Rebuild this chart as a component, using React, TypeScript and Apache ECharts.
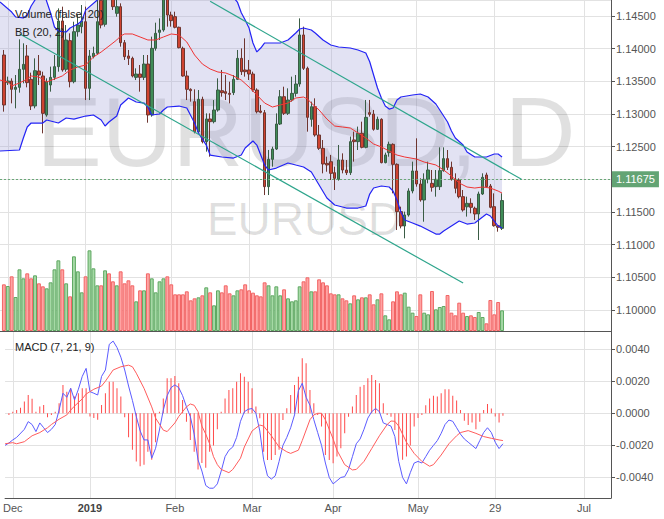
import React, { useEffect, useRef } from "react";
import * as echarts from "echarts";

const FONT = "'Liberation Sans', Arial, sans-serif";

// ---- calendar (trading days, category axis) ----
const firstDay = "2018-11-29";
const dayCount = 158;
const holidays = ["2018-12-25", "2019-01-01"];
const anchorDay = "2018-12-03"; // trading index 0
const firstCandleDay = "2018-11-30"; // trading index -1
const tickDates = ["2018-12-03", "2019-01-02", "2019-02-01", "2019-03-01", "2019-04-01", "2019-05-01", "2019-05-29", "2019-07-01"];
const tickLabels = ["Dec", "2019", "Feb", "Mar", "Apr", "May", "29", "Jul"];

// ---- candles [open, high, low, close], from 2018-11-30 ----
const ohlc: number[][] = [
  [1.13903, 1.1398, 1.13036, 1.13138],
  [1.1348, 1.13572, 1.13444, 1.13505],
  [1.13505, 1.13546, 1.13163, 1.13378],
  [1.13378, 1.13597, 1.13087, 1.13408],
  [1.13408, 1.14143, 1.13327, 1.13684],
  [1.13684, 1.14082, 1.1347, 1.1376],
  [1.13888, 1.14056, 1.13408, 1.1348],
  [1.13531, 1.13633, 1.13061, 1.13123],
  [1.13123, 1.13852, 1.13087, 1.13663],
  [1.13658, 1.13903, 1.13444, 1.13597],
  [1.13582, 1.13648, 1.12704, 1.1301],
  [1.12985, 1.13546, 1.12959, 1.13495],
  [1.13444, 1.13725, 1.13342, 1.13561],
  [1.13561, 1.13903, 1.1352, 1.13725],
  [1.13725, 1.14617, 1.13648, 1.14424],
  [1.14424, 1.14643, 1.13648, 1.13674],
  [1.13684, 1.14362, 1.13648, 1.14133],
  [1.14123, 1.14235, 1.13408, 1.13495],
  [1.13495, 1.14413, 1.1347, 1.1426],
  [1.1426, 1.14515, 1.14184, 1.14362],
  [1.14337, 1.14668, 1.14235, 1.14424],
  [1.14413, 1.14643, 1.13214, 1.13393],
  [1.13393, 1.1398, 1.13214, 1.13888],
  [1.13878, 1.14031, 1.13852, 1.13929],
  [1.13929, 1.1476, 1.13903, 1.14413],
  [1.1474, 1.1485, 1.14311, 1.14362],
  [1.14373, 1.1545, 1.14337, 1.1535],
  [1.1535, 1.157, 1.1485, 1.15],
  [1.15, 1.151, 1.14592, 1.14643],
  [1.14541, 1.148, 1.1449, 1.14643],
  [1.14643, 1.14694, 1.14031, 1.14092],
  [1.14092, 1.14133, 1.13827, 1.13878],
  [1.13888, 1.1398, 1.1375, 1.13852],
  [1.13852, 1.13878, 1.13561, 1.13582],
  [1.13561, 1.13699, 1.1352, 1.13612],
  [1.13612, 1.1375, 1.13342, 1.13561],
  [1.13561, 1.13903, 1.1352, 1.13765],
  [1.13765, 1.13903, 1.12867, 1.12985],
  [1.12985, 1.14184, 1.12959, 1.14005],
  [1.14005, 1.14398, 1.1397, 1.14235],
  [1.1425, 1.14464, 1.14133, 1.14286],
  [1.14286, 1.149, 1.1426, 1.148],
  [1.148, 1.149, 1.14337, 1.14515],
  [1.14515, 1.14566, 1.14337, 1.14429],
  [1.1449, 1.14566, 1.14311, 1.14327],
  [1.14327, 1.14337, 1.14005, 1.14015],
  [1.14005, 1.14031, 1.13572, 1.13582],
  [1.13582, 1.13663, 1.13214, 1.13378],
  [1.13378, 1.13393, 1.13189, 1.13357],
  [1.13189, 1.13378, 1.12704, 1.1273],
  [1.1273, 1.13367, 1.12704, 1.13225],
  [1.13225, 1.13265, 1.12551, 1.12577],
  [1.12577, 1.1301, 1.12424, 1.12924],
  [1.12924, 1.1301, 1.12347, 1.12883],
  [1.12883, 1.13214, 1.12857, 1.13061],
  [1.13061, 1.13546, 1.13036, 1.13367],
  [1.13357, 1.13674, 1.13265, 1.13327],
  [1.13342, 1.13597, 1.13214, 1.13316],
  [1.13316, 1.13495, 1.13163, 1.13301],
  [1.13327, 1.13597, 1.1329, 1.13531],
  [1.13531, 1.1398, 1.1352, 1.13852],
  [1.13852, 1.14005, 1.13597, 1.13648],
  [1.13674, 1.14158, 1.13572, 1.13648],
  [1.13674, 1.13827, 1.1352, 1.13612],
  [1.13612, 1.13648, 1.13342, 1.13367],
  [1.13367, 1.13393, 1.1301, 1.13036],
  [1.13046, 1.13138, 1.1301, 1.13026],
  [1.1302, 1.13061, 1.1176, 1.11888],
  [1.11888, 1.1245, 1.1176, 1.12306],
  [1.12306, 1.125, 1.12194, 1.12464],
  [1.12464, 1.1301, 1.1245, 1.12847],
  [1.12847, 1.13367, 1.12832, 1.13265],
  [1.13265, 1.13418, 1.12985, 1.1301],
  [1.1301, 1.13393, 1.12985, 1.13214],
  [1.13214, 1.13572, 1.13189, 1.13316],
  [1.13316, 1.13597, 1.13265, 1.13459],
  [1.13459, 1.14464, 1.13418, 1.1421],
  [1.1421, 1.14337, 1.13674, 1.13699],
  [1.13699, 1.13725, 1.1273, 1.12949],
  [1.12918, 1.13189, 1.12806, 1.13112],
  [1.13112, 1.1324, 1.12653, 1.12679],
  [1.12679, 1.12832, 1.1245, 1.12475],
  [1.12475, 1.12602, 1.12092, 1.12235],
  [1.12245, 1.12347, 1.12117, 1.1222],
  [1.1227, 1.12373, 1.1199, 1.12092],
  [1.12102, 1.12194, 1.11837, 1.12015],
  [1.12, 1.12526, 1.1198, 1.12296],
  [1.12296, 1.12398, 1.12092, 1.12143],
  [1.12143, 1.12296, 1.12067, 1.12102],
  [1.12102, 1.12654, 1.12067, 1.12577],
  [1.12603, 1.1273, 1.12271, 1.12577],
  [1.12577, 1.12807, 1.12449, 1.12705],
  [1.12705, 1.12883, 1.12475, 1.1249],
  [1.1249, 1.13215, 1.12475, 1.12949],
  [1.13021, 1.13215, 1.1296, 1.12995],
  [1.13, 1.13062, 1.12745, 1.12766],
  [1.12766, 1.1296, 1.12756, 1.12919],
  [1.12919, 1.12934, 1.12245, 1.12256],
  [1.12256, 1.12409, 1.12245, 1.12373],
  [1.12409, 1.12577, 1.12347, 1.12536],
  [1.12536, 1.12551, 1.11786, 1.1223],
  [1.1223, 1.12245, 1.11225, 1.11506],
  [1.11506, 1.11582, 1.1125, 1.11286],
  [1.11286, 1.11506, 1.11097, 1.11455],
  [1.11455, 1.11863, 1.1143, 1.11822],
  [1.11822, 1.12271, 1.11786, 1.12128],
  [1.12128, 1.12628, 1.11888, 1.11929],
  [1.11929, 1.12016, 1.11659, 1.11684],
  [1.11684, 1.12092, 1.11352, 1.12],
  [1.12, 1.12271, 1.11939, 1.12143],
  [1.11939, 1.12143, 1.11812, 1.11878],
  [1.11888, 1.12143, 1.11735, 1.12],
  [1.11888, 1.1249, 1.11837, 1.12133],
  [1.12133, 1.1249, 1.12117, 1.12317],
  [1.12317, 1.12449, 1.12143, 1.12184],
  [1.12184, 1.12271, 1.1198, 1.12],
  [1.12, 1.12092, 1.11786, 1.11863],
  [1.1199, 1.12016, 1.1171, 1.11735],
  [1.11735, 1.11837, 1.11506, 1.11531],
  [1.1158, 1.11735, 1.1143, 1.11633],
  [1.11633, 1.1171, 1.1148, 1.11572],
  [1.11557, 1.11582, 1.11378, 1.1147],
  [1.1147, 1.11812, 1.11072, 1.11776],
  [1.11776, 1.12092, 1.11761, 1.12031],
  [1.12067, 1.12102, 1.11878, 1.11888],
  [1.11898, 1.11929, 1.11557, 1.11572],
  [1.11582, 1.11786, 1.11276, 1.11291],
  [1.11291, 1.11301, 1.11199, 1.11266],
  [1.1125, 1.11786, 1.11225, 1.11675],
];

// ---- volume (arbitrary units), from 2018-11-30 ----
const volume: number[] = [
  140, 135, 164, 102, 185, 158, 173, 158, 167, 143,
  134, 128, 146, 185, 212, 185, 143, 104, 224, 179,
  116, 164, 242, 188, 137, 137, 182, 173, 149, 137,
  179, 143, 152, 137, 89, 122, 122, 173, 158, 116,
  149, 158, 164, 140, 110, 110, 110, 119, 92, 98,
  101, 107, 131, 116, 77, 122, 116, 137, 113, 107,
  122, 125, 140, 122, 115, 107, 104, 146, 137, 107,
  134, 107, 125, 98, 89, 92, 134, 149, 161, 119,
  119, 155, 146, 137, 113, 110, 110, 98, 92, 83,
  107, 95, 101, 101, 110, 80, 95, 113, 47, 35,
  89, 119, 110, 115, 73, 55, 45, 110, 55, 50,
  120, 65, 72, 75, 108, 55, 47, 85, 55, 45,
  47, 42, 57, 42, 23, 93, 50, 87, 62,
];

// ---- MACD histogram, from 2018-11-30 ----
const macdHist: number[] = [
  -0.0001, 0.0001, 0.0002, 0.00035, 0.00073, 0.00114, 0.0009, 0.0001, 0.00042, 0.00052,
  -0.00025, -0.0001, 0.0001, 0.00062, 0.00177, 0.00135, 0.00156, 0.00104, 0.00125, 0.00156,
  0.00156, -0.0002, -0.0003, -0.0004, 0.00052, 0.00125, 0.00197, 0.00197, 0.00156, 0.00104,
  -0.00025, -0.0015, -0.00228, -0.003, -0.0033, -0.0032, -0.0024, -0.0029, -0.0018, 0.0001,
  0.00093, 0.00218, 0.00218, 0.00233, 0.00187, 0.00083, -0.00052, -0.00166, -0.0024, -0.0035,
  -0.0031, -0.0034, -0.0024, -0.002, -0.001, 0.0001, 0.00093, 0.00145, 0.00156, 0.00197,
  0.00249, 0.00228, 0.00197, 0.00156, 0.00042, -0.00031, -0.00239, -0.00291, -0.00291, -0.0026,
  -0.00228, -0.00042, 0.00031, 0.00114, 0.00177, 0.00228, 0.00343, 0.00312, 0.00145, 0.00062,
  -0.0001, -0.00083, -0.0026, -0.00291, -0.00312, -0.0027, -0.00218, -0.00125, -0.00021, 0.00042,
  0.00114, 0.00166, 0.00177, 0.00218, 0.00239, 0.00208, 0.00187, 0.00062, -0.0001, -0.00021,
  -0.00104, -0.00197, -0.0029, -0.0027, -0.002, -0.00083, -0.0003, -0.0001, 0.0005, 0.00093,
  0.0011, 0.00104, 0.00125, 0.0015, 0.0015, 0.0011, 0.0008, 0.0002, -0.00046, -0.00073,
  -0.00058, -0.001, -0.00052, 0.0002, 0.00058, 0.0003, -0.0002, -0.00058, -0.00015,
];

// ---- MACD line & signal: [trading index, value] ----
const macdLine: number[][] = [
  [-2, -0.002], [-1, -0.00185], [0, -0.00166], [1, -0.0015], [3, -0.001], [4, -0.00052], [5, -0.0007], [6, -0.00114],
  [7, -0.0006], [8, -0.0009], [9, -0.0012], [10, -0.001], [11, -0.0007], [12, 0.0002], [13, 0.00125], [14, 0.001],
  [15, 0.00156], [16, 0.00083], [17, 0.0015], [18, 0.0023], [19, 0.0028], [20, 0.00135], [21, 0.00125], [22, 0.00114],
  [23, 0.0023], [24, 0.0027], [25, 0.0043], [26, 0.0045], [27, 0.0041], [28, 0.0035], [29, 0.0027], [30, 0.0017],
  [31, 0.0008], [32, -0.0002], [33, -0.0011], [34, -0.00166], [35, -0.00166], [36, -0.0028], [37, -0.00218], [38, -0.00104],
  [39, 0.0002], [40, 0.0011], [41, 0.0016], [42, 0.00177], [43, 0.0016], [44, 0.0011], [45, 0.0004], [46, -0.0002],
  [47, -0.0013], [48, -0.0029], [49, -0.0036], [50, -0.0045], [51, -0.00467], [52, -0.00467], [53, -0.0044], [54, -0.0036],
  [55, -0.0027], [56, -0.0023], [57, -0.0021], [58, -0.0015], [59, -0.0005], [60, 0.0001], [61, 0.00025], [62, 0.0003],
  [63, 0.0], [64, -0.0011], [65, -0.0029], [66, -0.0039], [67, -0.0041], [68, -0.0039], [69, -0.003], [70, -0.002],
  [71, -0.0015], [72, -0.0009], [73, -0.0001], [74, 0.0014], [75, 0.00187], [76, 0.001], [77, 0.0005], [78, -0.0004],
  [79, -0.0012], [80, -0.002], [81, -0.0031], [82, -0.004], [83, -0.0044], [84, -0.0042], [85, -0.004], [86, -0.00395],
  [87, -0.0035], [88, -0.0027], [89, -0.0019], [90, -0.0016], [91, -0.001], [92, -0.0003], [93, 0.0001], [94, 0.0003],
  [95, 0.0001], [96, -0.0006], [97, -0.0007], [98, -0.0008], [99, -0.00145], [100, -0.003], [101, -0.004], [102, -0.0044],
  [103, -0.0037], [104, -0.0031], [105, -0.003], [106, -0.0031], [107, -0.0027], [108, -0.0023], [109, -0.002], [110, -0.0017],
  [111, -0.00125], [112, -0.0007], [113, -0.00042], [114, -0.0005], [115, -0.0009], [116, -0.0013], [117, -0.0016], [118, -0.0018],
  [119, -0.002], [120, -0.0022], [121, -0.0017], [122, -0.0012], [123, -0.0009], [124, -0.0012], [125, -0.0018], [126, -0.0022],
  [127, -0.0019],
];
const signalLine: number[][] = [
  [-2, -0.0019], [0, -0.00183], [1, -0.0019], [3, -0.00177], [5, -0.0014], [7, -0.0012], [9, -0.0009], [10, -0.0007],
  [12, -0.00037], [14, -0.0001], [15, 0.0002], [16, 0.00045], [18, 0.0009], [19, 0.0012], [21, 0.0015], [23, 0.0017],
  [24, 0.002], [26, 0.0027], [28, 0.0029], [30, 0.003], [31, 0.0029], [32, 0.0025], [34, 0.00156], [36, 0.0004],
  [37, -0.0003], [39, -0.00105], [40, -0.00114], [42, -0.0006], [43, -0.0002], [45, 0.0004], [46, 0.00058], [47, 0.0005],
  [48, 0.0001], [49, -0.0008], [50, -0.0013], [51, -0.0019], [52, -0.0027], [53, -0.0032], [54, -0.0035], [56, -0.0037],
  [57, -0.0035], [59, -0.0028], [60, -0.0021], [61, -0.0016], [62, -0.0011], [64, -0.00073], [65, -0.0008], [67, -0.0014],
  [69, -0.0021], [71, -0.0024], [72, -0.0025], [74, -0.0023], [75, -0.0017], [77, -0.0004], [78, -0.0001], [79, 0.0],
  [80, 0.0], [81, -0.0004], [83, -0.0016], [84, -0.0023], [86, -0.0032], [88, -0.00353], [89, -0.0035], [91, -0.003],
  [93, -0.0022], [95, -0.0014], [97, -0.0007], [98, -0.00048], [99, -0.0005], [100, -0.0008], [102, -0.0018], [104, -0.0025],
  [106, -0.003], [108, -0.0033], [109, -0.0032], [111, -0.0026], [113, -0.0019], [115, -0.0014], [116, -0.0012], [118, -0.00108],
  [120, -0.00125], [122, -0.00145], [124, -0.00156], [126, -0.00166], [127, -0.0017],
];

// ---- Bollinger bands: [trading index, price] ----
const bbUpper: number[][] = [
  [-2, 1.14714], [1, 1.14561], [2, 1.14485], [4, 1.1447], [5, 1.14515], [6, 1.14653], [7, 1.14745], [9, 1.149],
  [11, 1.14546], [12, 1.14332], [13, 1.1427], [15, 1.14255], [16, 1.14316], [18, 1.14378], [19, 1.14424], [20, 1.1459],
  [23, 1.14745], [26, 1.151], [30, 1.156], [36, 1.157], [42, 1.1565], [48, 1.1545], [54, 1.151], [57, 1.1485],
  [59, 1.14714], [60, 1.1455], [61, 1.14439], [62, 1.14316], [63, 1.14087], [64, 1.1395], [65, 1.1401], [66, 1.14087],
  [68, 1.14087], [70, 1.14087], [72, 1.14133], [74, 1.1424], [75, 1.14301], [76, 1.14316], [78, 1.14286], [79, 1.1424],
  [81, 1.14133], [83, 1.14056], [85, 1.14026], [88, 1.1401], [90, 1.1398], [92, 1.13934], [93, 1.138], [94, 1.13597],
  [95, 1.13398], [96, 1.13245], [97, 1.13122], [98, 1.13076], [99, 1.13092], [100, 1.13214], [101, 1.1326], [104, 1.13291],
  [106, 1.13306], [108, 1.1326], [110, 1.13153], [112, 1.1297], [113, 1.12878], [114, 1.1274], [115, 1.12633], [117, 1.12526],
  [118, 1.12418], [120, 1.12342], [123, 1.12342], [125, 1.12388], [126, 1.12388], [127, 1.12342],
];
const bbMiddle: number[][] = [
  [-2, 1.1352], [0, 1.1349], [1, 1.13429], [3, 1.13475], [5, 1.13536], [6, 1.13582], [8, 1.13566], [10, 1.1349],
  [12, 1.13536], [14, 1.13582], [16, 1.13674], [18, 1.1372], [20, 1.1375], [22, 1.13872], [24, 1.13949], [26, 1.1404],
  [28, 1.14133], [29, 1.14194], [30, 1.14225], [32, 1.14225], [34, 1.14179], [36, 1.14133], [38, 1.14133], [40, 1.14179],
  [42, 1.14225], [44, 1.1421], [46, 1.14102], [48, 1.13903], [50, 1.13765], [52, 1.13689], [54, 1.13643], [56, 1.13628],
  [58, 1.13582], [60, 1.1352], [62, 1.13413], [64, 1.13291], [66, 1.13168], [68, 1.13107], [70, 1.13138], [72, 1.13168],
  [74, 1.13245], [76, 1.1326], [77, 1.1323], [78, 1.13168], [80, 1.13061], [82, 1.12923], [84, 1.12816], [86, 1.12801],
  [88, 1.12786], [90, 1.1271], [92, 1.12633], [94, 1.12541], [96, 1.12495], [98, 1.12434], [100, 1.12372], [102, 1.12342],
  [105, 1.12311], [107, 1.12265], [110, 1.1222], [112, 1.12143], [114, 1.12051], [116, 1.11944], [118, 1.11883], [120, 1.11867],
  [122, 1.11883], [124, 1.11867], [126, 1.11821], [127, 1.1179],
];
const bbLower: number[][] = [
  [-2, 1.12434], [3, 1.12449], [4, 1.12633], [5, 1.12801], [6, 1.12862], [9, 1.12862], [10, 1.12908], [13, 1.12862],
  [15, 1.12939], [17, 1.12923], [20, 1.12969], [22, 1.12985], [24, 1.12908], [25, 1.12816], [26, 1.12878], [28, 1.12969],
  [29, 1.13138], [31, 1.13245], [33, 1.13184], [35, 1.13168], [36, 1.13107], [37, 1.12985], [39, 1.13], [40, 1.13061],
  [41, 1.13107], [44, 1.13122], [46, 1.13092], [48, 1.12862], [49, 1.12709], [51, 1.12525], [52, 1.12372], [55, 1.12342],
  [58, 1.12326], [60, 1.12372], [61, 1.1248], [63, 1.12587], [64, 1.12525], [66, 1.12219], [67, 1.12143], [69, 1.12173],
  [72, 1.1225], [74, 1.12219], [76, 1.12189], [78, 1.12112], [80, 1.11913], [82, 1.11714], [84, 1.11607], [87, 1.11561],
  [90, 1.11561], [92, 1.11592], [93, 1.11775], [94, 1.11867], [96, 1.11898], [98, 1.11883], [99, 1.11821], [100, 1.11684],
  [101, 1.115], [102, 1.11377], [104, 1.11332], [106, 1.11285], [108, 1.11224], [110, 1.11163], [111, 1.11163], [112, 1.11209],
  [114, 1.11285], [116, 1.11362], [118, 1.11316], [120, 1.11332], [122, 1.11423], [123, 1.1147], [124, 1.11439], [125, 1.11362],
  [126, 1.11285], [127, 1.11255],
];

// ---- drawn trend channel: [trading index, price] ----
const trendUpper: number[][] = [[52, 1.14725], [132, 1.12]];
const trendLower: number[][] = [[3, 1.14229], [117, 1.10413]];

const lastPrice = 1.11675;
const priceRange = [1.09679, 1.14745];
const macdRange = [-0.00528, 0.00513];
const volumeMax = 993;

function buildCalendar(): string[] {
  const out: string[] = [];
  const d = new Date(firstDay + "T00:00:00Z");
  while (out.length < dayCount) {
    const wd = d.getUTCDay();
    const s = d.toISOString().slice(0, 10);
    if (wd !== 0 && wd !== 6 && holidays.indexOf(s) < 0) out.push(s);
    d.setUTCDate(d.getUTCDate() + 1);
  }
  return out;
}

function buildOption() {
  const cats = buildCalendar();
  const off = cats.indexOf(anchorDay);
  const c0 = cats.indexOf(firstCandleDay);
  const isTick = (_i: number, v: string) => tickDates.indexOf(v) >= 0;
  const labelOf = (v: string) => {
    const k = tickDates.indexOf(v);
    if (k < 0) return "";
    const t = tickLabels[k];
    return /^\d{4}$/.test(t) ? "{y|" + t + "}" : t;
  };
  const pts = (arr: number[][]) => arr.map(([i, v]) => [i + off, v]);

  const candleData = ohlc.map((d, j) => [j + c0, d[0], d[3], d[2], d[1]]);
  const volData = volume.map((v, j) => {
    const up = ohlc[j][3] >= ohlc[j][0];
    return {
      value: [j + c0, v],
      itemStyle: up
        ? { color: "#a6d9a6", borderColor: "#5fa862" }
        : { color: "#ffa3a3", borderColor: "#f26565" },
    };
  });
  const histData = macdHist.map((v, j) => [j + c0, v]);

  const gridLine = { lineStyle: { color: "#e2e2e2", width: 1 } };
  const xAxisBase = (gridIndex: number, labels: boolean) => ({
    type: "category",
    gridIndex,
    data: cats,
    boundaryGap: false,
    axisLine: { show: true, onZero: false, lineStyle: { color: "#555", width: 1 } },
    axisTick: { show: false },
    splitLine: { show: true, interval: isTick, ...gridLine },
    axisLabel: labels
      ? {
          show: true,
          interval: isTick,
          formatter: labelOf,
          color: "#555",
          fontSize: 11,
          fontFamily: FONT,
          margin: 4,
          rich: { y: { fontWeight: "bold", color: "#444", fontSize: 11, fontFamily: FONT } },
        }
      : { show: false },
  });

  const yLabel = (digits: number) => ({
    color: "#555",
    fontSize: 11,
    fontFamily: FONT,
    margin: 5,
    showMinLabel: false,
    showMaxLabel: false,
    formatter: (v: number) => (Math.abs(v) < 1e-9 ? 0 : v).toFixed(digits),
  });

  return {
    animation: false,
    backgroundColor: "#ffffff",
    textStyle: { fontFamily: FONT },
    grid: [
      { left: 0, top: 0, width: 611, height: 331 },
      { left: 0, top: 331, width: 611, height: 167 },
    ],
    xAxis: [xAxisBase(0, false), xAxisBase(1, true)],
    yAxis: [
      {
        type: "value",
        gridIndex: 0,
        position: "right",
        min: priceRange[0],
        max: priceRange[1],
        splitNumber: 10,
        minInterval: 0.005,
        maxInterval: 0.005,
        axisLine: { show: true, lineStyle: { color: "#555" } },
        axisTick: { show: true, length: 4, lineStyle: { color: "#555" } },
        axisLabel: yLabel(5),
        splitLine: { show: true, ...gridLine },
      },
      { type: "value", gridIndex: 0, show: false, min: 0, max: volumeMax },
      {
        type: "value",
        gridIndex: 1,
        position: "right",
        min: macdRange[0],
        max: macdRange[1],
        splitNumber: 5,
        minInterval: 0.002,
        maxInterval: 0.002,
        axisLine: { show: true, lineStyle: { color: "#555" } },
        axisTick: { show: true, length: 4, lineStyle: { color: "#555" } },
        axisLabel: yLabel(4),
        splitLine: { show: true, ...gridLine },
      },
    ],
    graphic: [
      {
        type: "text", x: 306, y: 132, z: 1, silent: true,
        style: { text: "EURUSD, D", fontSize: 98, fontFamily: FONT, fill: "rgba(0,0,0,0.12)", align: "center", verticalAlign: "middle", textAlign: "center", textVerticalAlign: "middle" },
      },
      {
        type: "text", x: 304, y: 219, z: 1, silent: true,
        style: { text: "EURUSD", fontSize: 46, fontFamily: FONT, fill: "rgba(0,0,0,0.12)", align: "center", verticalAlign: "middle", textAlign: "center", textVerticalAlign: "middle" },
      },
      {
        type: "text", x: 15, y: 14, z: 20, silent: true,
        style: { text: "Volume (false, 20)", fontSize: 11, fontFamily: FONT, fill: "#222", verticalAlign: "middle", textVerticalAlign: "middle" },
      },
      {
        type: "text", x: 15, y: 32, z: 20, silent: true,
        style: { text: "BB (20, 2)", fontSize: 11, fontFamily: FONT, fill: "#222", verticalAlign: "middle", textVerticalAlign: "middle" },
      },
      {
        type: "text", x: 15, y: 347, z: 20, silent: true,
        style: { text: "MACD (7, 21, 9)", fontSize: 11, fontFamily: FONT, fill: "#222", verticalAlign: "middle", textVerticalAlign: "middle" },
      },
    ],
    series: [
      {
        type: "custom",
        name: "BB band",
        xAxisIndex: 0,
        yAxisIndex: 0,
        clip: true,
        silent: true,
        z: 1,
        data: [[0, priceRange[0]]],
        renderItem: (_p: any, api: any) => {
          const up = bbUpper.map(([i, v]) => api.coord([i + off, v]));
          const lo = bbLower.slice().reverse().map(([i, v]) => api.coord([i + off, v]));
          return { type: "polygon", shape: { points: up.concat(lo) }, style: { fill: "rgba(160,160,215,0.3)" } };
        },
      },
      {
        type: "bar",
        name: "Volume",
        xAxisIndex: 0,
        yAxisIndex: 1,
        barWidth: 3.9,
        z: 2,
        itemStyle: { borderWidth: 1 },
        data: volData,
      },
      {
        type: "line", name: "BB upper", xAxisIndex: 0, yAxisIndex: 0, z: 4, symbol: "none",
        lineStyle: { color: "#2323f5", width: 1.2 }, data: pts(bbUpper),
      },
      {
        type: "line", name: "BB lower", xAxisIndex: 0, yAxisIndex: 0, z: 4, symbol: "none",
        lineStyle: { color: "#2323f5", width: 1.2 }, data: pts(bbLower),
      },
      {
        type: "line", name: "BB basis", xAxisIndex: 0, yAxisIndex: 0, z: 4, symbol: "none",
        lineStyle: { color: "#f03434", width: 1 }, data: pts(bbMiddle),
      },
      {
        type: "line", name: "Trend upper", xAxisIndex: 0, yAxisIndex: 0, z: 5, symbol: "none",
        lineStyle: { color: "#2ea58c", width: 1.2 }, data: pts(trendUpper),
      },
      {
        type: "line", name: "Trend lower", xAxisIndex: 0, yAxisIndex: 0, z: 5, symbol: "none",
        lineStyle: { color: "#2ea58c", width: 1.2 }, data: pts(trendLower),
      },
      {
        type: "candlestick",
        name: "EURUSD",
        xAxisIndex: 0,
        yAxisIndex: 0,
        z: 3,
        barWidth: 3,
        clip: true,
        dimensions: ["idx", "open", "close", "lowest", "highest"],
        encode: { x: 0, y: [1, 2, 3, 4] },
        itemStyle: {
          color: "#3f8c57",
          color0: "#cf4330",
          borderColor: "#3a5c45",
          borderColor0: "#6e3630",
          borderWidth: 1,
        },
        data: candleData,
        markLine: {
          silent: true,
          symbol: ["none", "none"],
          lineStyle: { color: "#6aa878", width: 1, type: [2, 2] },
          label: {
            show: true,
            position: "end",
            distance: 1,
            formatter: lastPrice.toFixed(5),
            color: "#fff",
            backgroundColor: "#63a474",
            padding: [3, 4, 2, 4],
            fontSize: 11,
            fontFamily: FONT,
          },
          data: [{ yAxis: lastPrice }],
        },
      },
      {
        type: "bar",
        name: "Histogram",
        xAxisIndex: 1,
        yAxisIndex: 2,
        barWidth: 1,
        z: 2,
        itemStyle: { color: "#ff4a4a" },
        data: histData,
      },
      {
        type: "line", name: "MACD", xAxisIndex: 1, yAxisIndex: 2, z: 4, symbol: "none",
        lineStyle: { color: "#5b5bff", width: 1 }, data: pts(macdLine),
      },
      {
        type: "line", name: "Signal", xAxisIndex: 1, yAxisIndex: 2, z: 4, symbol: "none",
        lineStyle: { color: "#ff5c5c", width: 1 }, data: pts(signalLine),
      },
    ],
  };
}

export default function App() {
  const ref = useRef<HTMLDivElement>(null);
  useEffect(() => {
    if (!ref.current) return;
    const chart = echarts.init(ref.current, null, { renderer: "svg" });
    chart.setOption(buildOption() as any);
    return () => chart.dispose();
  }, []);
  return (
    <div
      ref={ref}
      style={{ position: "fixed", left: 0, top: 0, width: 664, height: 519, background: "#fff" }}
    />
  );
}
